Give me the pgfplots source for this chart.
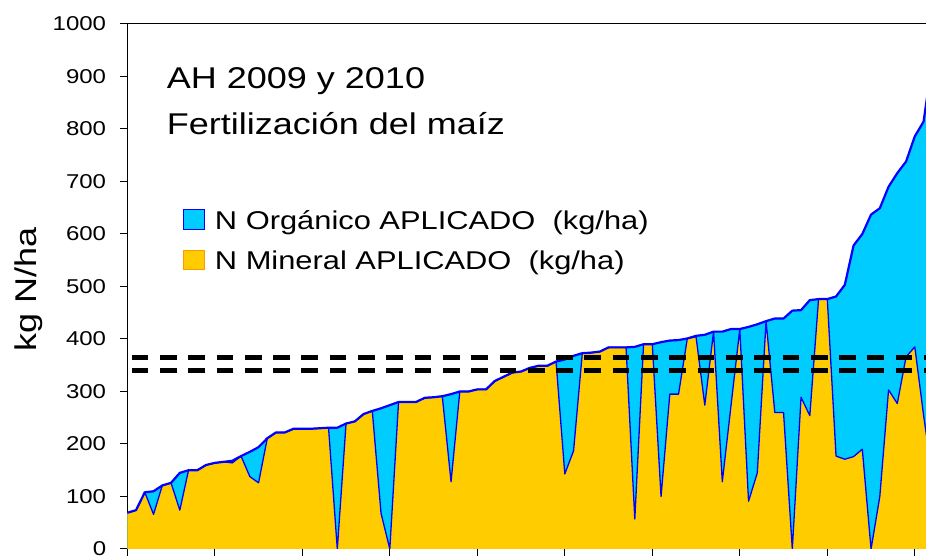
\documentclass[border=0pt]{standalone}
\usepackage{fontspec}
\setmainfont{Liberation Sans}[FakeStretch=1.2]
\usepackage{pgfplots}
\pgfplotsset{compat=1.18}
\usepackage{pgfplotstable}
\definecolor{orgcyan}{RGB}{0,204,255}
\definecolor{minyellow}{RGB}{255,204,0}
\definecolor{lineblue}{RGB}{0,0,255}
\definecolor{legorange}{RGB}{255,153,0}

\pgfplotstableread{
i T M
0 69 69
1 74 74
2 108 108
3 110 66
4 121 121
5 126 126
6 145 74
7 150 150
8 150 150
9 160 160
10 164 164
11 166 166
12 168 164
13 177 177
14 185 138
15 194 126
16 211 211
17 222 222
18 222 222
19 229 229
20 229 229
21 229 229
22 230 230
23 231 231
24 231 0
25 239 239
26 243 243
27 257 257
28 263 263
29 268 68
30 274 0
31 280 280
32 280 280
33 280 280
34 288 288
35 289 289
36 291 291
37 295 128
38 300 300
39 300 300
40 304 304
41 304 304
42 320 320
43 328 328
44 336 336
45 338 338
46 345 345
47 349 349
48 349 349
49 357 357
50 361 143
51 368 187
52 373 373
53 374 374
54 376 376
55 384 384
56 384 384
57 384 384
58 385 57
59 390 390
60 390 390
61 394 100
62 397 295
63 398 295
64 401 401
65 406 404
66 408 274
67 414 414
68 414 128
69 419 274
70 419 419
71 423 91
72 428 145
73 434 434
74 439 260
75 439 260
76 454 0
77 455 289
78 474 254
79 476 476
80 476 476
81 481 177
82 503 171
83 578 176
84 600 190
85 637 0
86 649 100
87 690 303
88 716 277
89 738 366
90 786 385
91 814 255
92 930 140
}\datatable

\begin{document}
\begin{tikzpicture}
\begin{axis}[
  scale only axis, width=798.7pt, height=525pt,
  xmin=0, xmax=91.28, ymin=0, ymax=1000,
  axis x line*=box, axis y line*=left,
  xtick pos=bottom, ytick pos=left,
  xtick={0,10,...,90}, xticklabels={},
  ytick={0,100,...,1000},
  tick align=outside,
  major tick length=7pt,
  every tick/.style={black, line width=1pt},
  axis line style={black, line width=1pt},
  /pgf/number format/assume math mode=true,
  /pgf/number format/1000 sep={},
  yticklabel style={font=\fontsize{20}{21}\selectfont, inner sep=0pt, anchor=east, xshift=-14pt},
  ylabel={kg N/ha},
  ylabel style={at={(axis description cs:-0.1228,0.4952)}, anchor=center, inner sep=0pt, font=\fontsize{30}{31}\selectfont},
  legend image code/.code={\draw[#1] (0pt,0pt) rectangle (20.5pt,19.5pt);},
  legend style={at={(axis description cs:0.0701,0.6475)}, anchor=north west,
    draw=none, fill=none, inner sep=0pt, row sep=19.2pt,
    font=\fontsize{25.7}{28}\selectfont,
    nodes={inner sep=0pt},
    cells={anchor=base west},
    /tikz/every odd column/.append style={column sep=10pt}},
]
\addplot[draw=none, fill=orgcyan, forget plot] table[x=i,y=T]{\datatable} \closedcycle;
\addplot[draw=none, fill=minyellow, forget plot] table[x=i,y=M]{\datatable} \closedcycle;
\addplot[lineblue, line width=1.3pt, line join=round, forget plot] table[x=i,y=M]{\datatable};
\addplot[lineblue, line width=2.2pt, line join=round, forget plot] table[x=i,y=T]{\datatable};
\addplot[black, line width=4.5pt, dash pattern=on 16.7pt off 11.6pt, forget plot] coordinates {(0.5,340) (91.28,340)};
\addplot[black, line width=4.5pt, dash pattern=on 16.7pt off 11.6pt, forget plot] coordinates {(0.5,365) (91.28,365)};
\addlegendimage{fill=orgcyan, draw=lineblue, line width=1pt}
\addlegendentry{N Orgánico APLICADO\ \ (kg/ha)}
\addlegendimage{fill=minyellow, draw=legorange, line width=1pt}
\addlegendentry{N Mineral APLICADO\ \ (kg/ha)}
\end{axis}
\node[anchor=base west, inner sep=0pt, font=\fontsize{30}{32}\selectfont] at (39.4pt,460.7pt) {AH 2009 y 2010};
\node[anchor=base west, inner sep=0pt, font=\fontsize{30}{32}\selectfont] at (39.4pt,414pt) {Fertilización del maíz};
\pgfresetboundingbox
\useasboundingbox (-127.3pt,-7pt) rectangle (798.7pt,549pt);
\end{tikzpicture}
\end{document}
